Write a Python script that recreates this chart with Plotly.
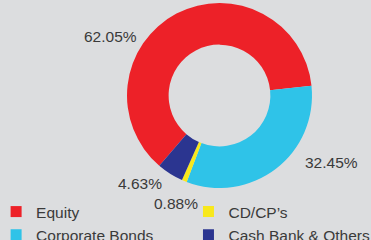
import plotly.graph_objects as go

labels = ["Equity", "Corporate Bonds", "CD/CP\u2019s", "Cash Bank & Others"]
values = [62.05, 32.45, 0.88, 4.63]
colors = ["#ED2128", "#2FC3E8", "#F8E81C", "#2B3590"]

label_pos = [(0.2965, 0.85), (0.8935, 0.321), (0.4757, 0.152), (0.3787, 0.236)]

W, H = 371, 240
font = dict(family="Liberation Sans, Arial, sans-serif", size=15.5, color="#3a3a3a")

fig = go.Figure()
fig.add_trace(go.Pie(
    labels=labels, values=values, sort=False, direction="clockwise",
    rotation=220.6, hole=0.55, textinfo="none", hoverinfo="label+percent",
    marker=dict(colors=colors, line=dict(width=0)),
    domain=dict(x=[127 / W, 312 / W], y=[1 - 188 / H, 1 - 3 / H]),
    showlegend=False,
))

legend_ids = ["legend", "legend", "legend2", "legend2"]
for i in range(len(labels)):
    fig.add_trace(go.Scatter(
        x=[None], y=[None], mode="markers", name=labels[i],
        marker=dict(symbol="square", size=11, color=colors[i]),
        legend=legend_ids[i], showlegend=True,
    ))

for (x, y), v in zip(label_pos, values):
    fig.add_annotation(x=x, y=y, xref="paper", yref="paper", text=f"{v:.2f}%",
                       showarrow=False, font=font, xanchor="center", yanchor="middle")

legend_common = dict(orientation="v", bgcolor="rgba(0,0,0,0)", font=font,
                     yanchor="bottom", xanchor="left", tracegroupgap=0, itemwidth=30)
fig.update_layout(
    width=W, height=H,
    margin=dict(l=0, r=0, t=0, b=0, autoexpand=False),
    paper_bgcolor="#DCDDDF", plot_bgcolor="#DCDDDF",
    xaxis=dict(visible=False), yaxis=dict(visible=False),
    legend=dict(x=-0.0105, y=-0.05, **legend_common),
    legend2=dict(x=0.508, y=-0.05, **legend_common),
)
fig.write_html(
    "out.html",
    config={"displayModeBar": False},
    post_script=("document.body.style.margin='0';"
                 "document.body.style.overflow='hidden';"
                 "document.documentElement.style.overflow='hidden';"),
)
